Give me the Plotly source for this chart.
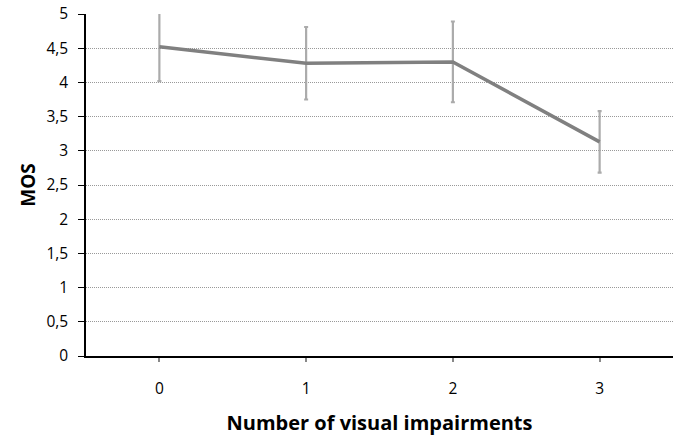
import plotly.graph_objects as go

categories = ["0", "1", "2", "3"]
mos = [4.52, 4.28, 4.30, 3.13]
err = [0.50, 0.53, 0.59, 0.45]
y_ticks = [0, 0.5, 1, 1.5, 2, 2.5, 3, 3.5, 4, 4.5, 5]

fig = go.Figure()
fig.add_trace(go.Scatter(
    x=[0, 1, 2, 3], y=mos, mode="lines",
    line=dict(color="#808080", width=3.5),
    error_y=dict(type="data", array=err, visible=True, color="#ababab",
                 thickness=2.2, width=2),
    cliponaxis=True, showlegend=False,
))

fig.update_layout(
    width=689, height=437,
    margin=dict(l=86, r=16, t=14, b=81),
    paper_bgcolor="white", plot_bgcolor="white",
    separators=", ",
    font=dict(family="Open Sans, Liberation Sans, sans-serif", color="#000", size=15),
    xaxis=dict(
        range=[-0.5, 3.5], tickvals=[0, 1, 2, 3], ticktext=categories,
        showgrid=False, zeroline=False, showline=True, linecolor="#000", linewidth=1.5,
        ticks="outside", ticklen=4, tickcolor="#888", tickwidth=1.5,
        tickfont=dict(size=15.5), ticklabelstandoff=14, automargin=False,
        title=dict(text="<b>Number of visual impairments</b>", font=dict(size=20), standoff=18),
    ),
    yaxis=dict(
        range=[0, 5], tickvals=y_ticks,
        showgrid=True, gridcolor="#999999", griddash="1px,1px", gridwidth=1,
        zeroline=False, showline=True, linecolor="#000", linewidth=1.5,
        ticks="outside", ticklen=6, tickcolor="#000", tickwidth=1,
        tickfont=dict(size=15.5), ticklabelstandoff=7, automargin=False,
        title=dict(text="<b>MOS</b>", font=dict(size=19), standoff=6),
    ),
)
fig.write_html("out.html")
